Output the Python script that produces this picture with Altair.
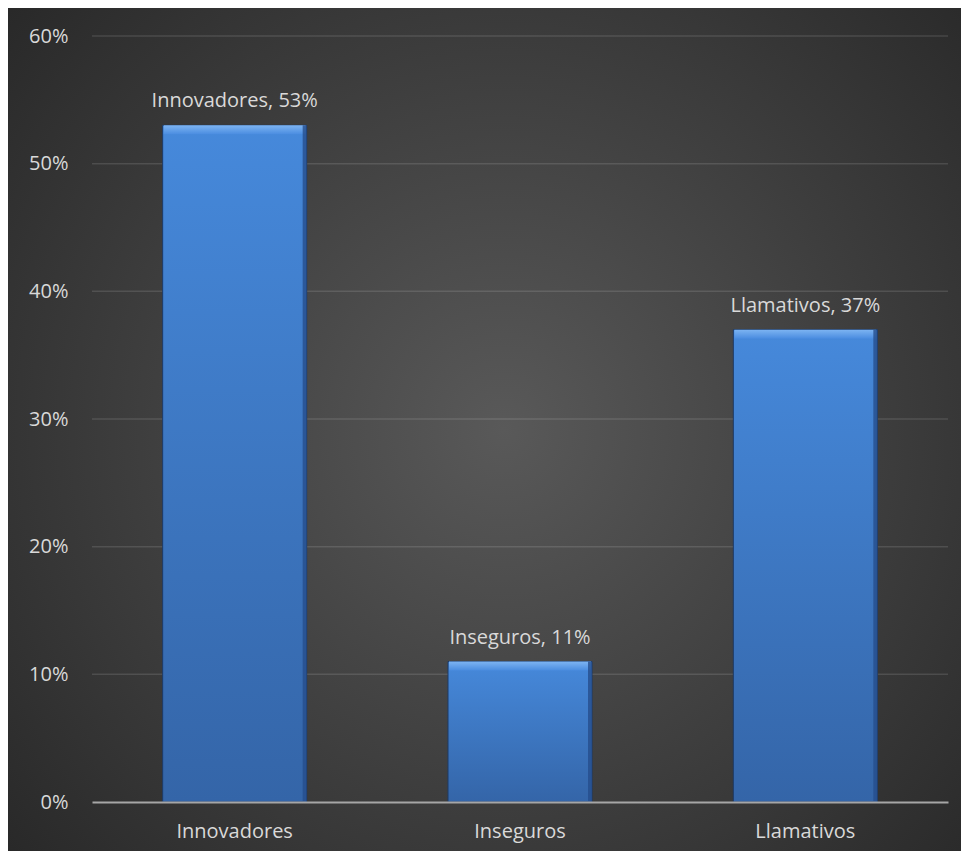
import altair as alt
import pandas as pd

categories = ["Innovadores", "Inseguros", "Llamativos"]
values = [0.53, 0.11, 0.37]
y_ticks = [0, 0.1, 0.2, 0.3, 0.4, 0.5, 0.6]

df = pd.DataFrame({"cat": categories, "v": values})
grid_df = pd.DataFrame({"t": y_ticks[1:]})

W, H = 856, 766
PAD = {"left": 84, "top": 28, "right": 13, "bottom": 49}
FONT = "Open Sans"
TXT = "#d9d9d9"
BAR_W = 144
FS = 20

bg_grad = {
    "gradient": "radial",
    "x1": 0.52, "y1": 0.5, "r1": 0,
    "x2": 0.52, "y2": 0.5, "r2": 0.75,
    "stops": [
        {"offset": 0, "color": "#595959"},
        {"offset": 1, "color": "#242424"},
    ],
}
bar_grad = {
    "gradient": "linear",
    "x1": 0, "y1": 0, "x2": 0, "y2": 1,
    "stops": [
        {"offset": 0, "color": "#4689db"},
        {"offset": 1, "color": "#3465a8"},
    ],
}
top_grad = {
    "gradient": "linear",
    "x1": 0, "y1": 0, "x2": 0, "y2": 1,
    "stops": [
        {"offset": 0, "color": "#7db4f2"},
        {"offset": 1, "color": "#4a8ce0"},
    ],
}

x_enc = alt.X(
    "cat:N",
    sort=categories,
    scale=alt.Scale(paddingInner=0, paddingOuter=0),
    axis=alt.Axis(
        title=None, labelAngle=0, ticks=False, domain=True,
        domainColor="#a6a6a6", domainWidth=2, zindex=1,
        labelFont=FONT, labelFontSize=FS, labelColor=TXT, labelPadding=19,
        grid=False,
    ),
)
y_scale = alt.Scale(domain=[0, 0.6])

base = alt.Chart(df)

background = base.mark_rect(fill=bg_grad, clip=False).encode(
    x=alt.value(-PAD["left"]),
    x2=alt.value(W + PAD["right"]),
    y=alt.value(-PAD["top"]),
    y2=alt.value(H + PAD["bottom"]),
)

grid = alt.Chart(grid_df).mark_rule(color="#ffffff", opacity=0.12, strokeWidth=1.5).encode(
    y=alt.Y("t:Q", scale=y_scale),
)

bars = base.mark_bar(width=BAR_W, fill=bar_grad, stroke="#1d3a66", strokeWidth=1).encode(
    x=x_enc,
    y=alt.Y(
        "v:Q",
        scale=y_scale,
        axis=alt.Axis(
            title=None, format=".0%", values=y_ticks,
            ticks=False, domain=False, grid=False, zindex=1,
            labelFont=FONT, labelFontSize=FS, labelColor=TXT, labelPadding=24,
        ),
    ),
)

top_strip = base.mark_bar(width=BAR_W - 2, fill=top_grad, y2Offset=9).encode(
    x=alt.X("cat:N", sort=categories),
    y=alt.Y("v:Q", scale=y_scale),
    y2="v:Q",
)

right_strip = base.mark_bar(width=4, xOffset=BAR_W / 2 - 2, fill="#264e8c", opacity=0.8).encode(
    x=alt.X("cat:N", sort=categories),
    y=alt.Y("v:Q", scale=y_scale),
    y2=alt.datum(0),
)

labels = base.mark_text(
    font=FONT, fontSize=FS, color=TXT, baseline="alphabetic", dy=-18
).transform_calculate(
    lab="datum.cat + ', ' + format(datum.v, '.0%')"
).encode(
    x=alt.X("cat:N", sort=categories),
    y=alt.Y("v:Q", scale=y_scale),
    text="lab:N",
)

chart = (
    alt.layer(background, grid, bars, top_strip, right_strip, labels)
    .properties(width=W, height=H, padding=PAD, autosize=alt.AutoSizeParams(type="none"),
                background="#2b2b2b")
    .configure_view(stroke=None)
)

chart.save("out.html", embed_options={"renderer": "svg", "actions": False})
